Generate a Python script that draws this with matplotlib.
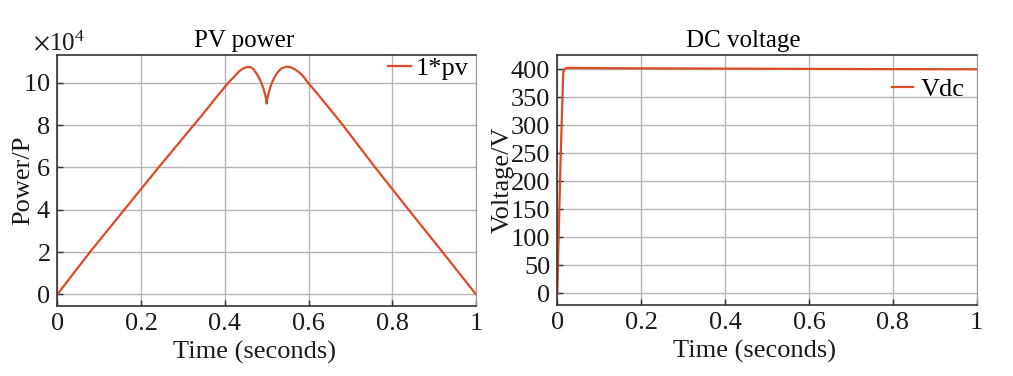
import matplotlib
matplotlib.use("Agg")
import matplotlib.pyplot as plt
from matplotlib.ticker import ScalarFormatter

plt.rcParams['font.family'] = ['Liberation Serif', 'DejaVu Serif']
plt.rcParams['mathtext.fontset'] = 'stix'

# PV power (W)
t_pv = [0.0, 0.078, 0.16, 0.242, 0.326, 0.36, 0.38, 0.40, 0.41, 0.42, 0.43, 0.436,
        0.445, 0.455, 0.462, 0.468, 0.476, 0.482, 0.488, 0.492, 0.496, 0.499, 0.50,
        0.501, 0.504, 0.508, 0.512, 0.518, 0.524, 0.53, 0.537, 0.548, 0.556, 0.565,
        0.575, 0.585, 0.60, 0.62, 0.682, 0.759, 0.839, 0.92, 1.0]
p_pv = [0, 20000, 40000, 60000, 80000, 88200, 93200, 98000, 100300, 102400, 104500, 105700,
        106900, 107500, 107300, 106500, 104300, 102200, 99600, 97400, 94600, 92000, 90200,
        92000, 94600, 97400, 99700, 102300, 104300, 105800, 107000, 107600, 107400, 106600,
        105300, 103600, 99700, 95100, 80000, 60000, 40000, 20000, 0]

# DC voltage (V)
t_dc = [0.0, 0.002, 0.008, 0.0143, 0.018, 0.023, 0.03, 0.1, 0.3, 0.5, 0.7, 1.0]
v_dc = [0, 60, 240, 395.7, 400.5, 402.5, 402.5, 402, 401.5, 401, 400.5, 400]

color = '#DC4B26'
fs = 19

fig = plt.figure(figsize=(10.13, 3.76), dpi=100)
ax1 = fig.add_axes([0.0566, 0.1862, 0.4133, 0.6675])
ax2 = fig.add_axes([0.5501, 0.1888, 0.4141, 0.6649])

def style(ax):
    ax.grid(True, color='#b4b4b4', linewidth=1.0)
    ax.set_axisbelow(True)
    for s in ['top', 'left', 'bottom']:
        ax.spines[s].set_color('#333333')
        ax.spines[s].set_linewidth(1.2)
    ax.spines['right'].set_color('#9a9a9a')
    ax.tick_params(direction='in', length=4, width=1, colors='#333333',
                   labelsize=fs, labelcolor='#1a1a1a', pad=5)
    ax.set_xlim(0, 1)
    ax.set_xticks([0, 0.2, 0.4, 0.6, 0.8, 1.0])
    ax.set_xticklabels(['0', '0.2', '0.4', '0.6', '0.8', '1'])
    ax.set_xlabel('Time (seconds)', fontsize=fs, labelpad=4, color='#1a1a1a', x=0.471)

ax1.plot(t_pv, p_pv, color=color, linewidth=1.6, label='1*pv')
style(ax1)
ax1.set_ylim(-5500, 113100)
ax1.set_yticks([0, 20000, 40000, 60000, 80000, 100000])
fmt = ScalarFormatter(useMathText=True)
fmt.set_powerlimits((4, 4))
ax1.yaxis.set_major_formatter(fmt)
off = ax1.yaxis.get_offset_text()
off.set_fontsize(fs - 1)
off.set_x(-0.058)
ax1.set_ylabel('Power/P', fontsize=fs, labelpad=-8, color='#1a1a1a')
ax1.set_title('PV power', fontsize=fs - 1, pad=6, x=0.447)
ax1.legend(loc='upper right', frameon=False, fontsize=fs, handlelength=0.9,
           handletextpad=0.15, borderaxespad=0.0, borderpad=0.05,
           bbox_to_anchor=(0.985, 1.0))

ax2.plot(t_dc, v_dc, color=color, linewidth=1.6, label='Vdc')
style(ax2)
ax2.set_ylim(-21, 425.5)
ax2.set_yticks(list(range(0, 401, 50)))
ax2.set_ylabel('Voltage/V', fontsize=fs, labelpad=-2, color='#1a1a1a')
ax2.set_title('DC voltage', fontsize=fs - 1, pad=6, x=0.443)
ax2.legend(loc='upper right', frameon=False, fontsize=fs, handlelength=0.8,
           handletextpad=0.3, bbox_to_anchor=(0.975, 0.915), borderaxespad=0.0,
           borderpad=0.05)

fig.savefig('out.png', dpi=100)
